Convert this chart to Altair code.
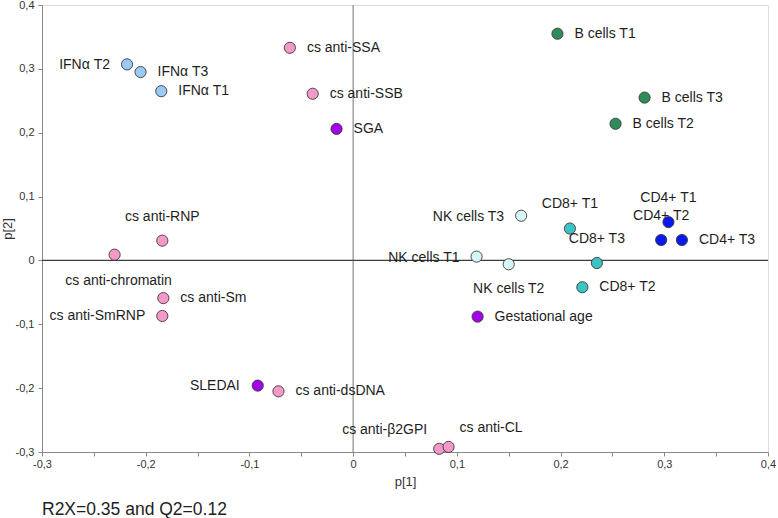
import altair as alt
import pandas as pd

# Loadings of the variables on the first two components
names = [
    "IFNα T2", "IFNα T3", "IFNα T1",
    "cs anti-SSA", "cs anti-SSB", "SGA",
    "B cells T1", "B cells T3", "B cells T2",
    "cs anti-RNP", "cs anti-chromatin", "cs anti-Sm", "cs anti-SmRNP",
    "NK cells T3", "NK cells T1", "NK cells T2", "Gestational age",
    "CD8+ T1", "CD8+ T3", "CD8+ T2",
    "CD4+ T1", "CD4+ T2", "CD4+ T3",
    "SLEDAI", "cs anti-dsDNA", "cs anti-β2GPI", "cs anti-CL",
]
p1 = [
    -0.218, -0.205, -0.185,
    -0.061, -0.039, -0.016,
    0.197, 0.281, 0.253,
    -0.184, -0.230, -0.183, -0.184,
    0.162, 0.119, 0.150, 0.120,
    0.209, 0.235, 0.221,
    0.304, 0.297, 0.317,
    -0.092, -0.072, 0.083, 0.092,
]
p2 = [
    0.307, 0.295, 0.265,
    0.333, 0.261, 0.206,
    0.355, 0.255, 0.214,
    0.031, 0.009, -0.059, -0.087,
    0.070, 0.006, -0.006, -0.088,
    0.050, -0.004, -0.042,
    0.060, 0.032, 0.032,
    -0.196, -0.205, -0.295, -0.292,
]
groups = [
    "IFN", "IFN", "IFN",
    "cs", "cs", "clin",
    "B", "B", "B",
    "cs", "cs", "cs", "cs",
    "NK", "NK", "NK", "clin",
    "CD8", "CD8", "CD8",
    "CD4", "CD4", "CD4",
    "clin", "cs", "cs", "cs",
]

group_names = ["IFN", "cs", "clin", "B", "NK", "CD8", "CD4"]
group_colors = ["#9cc8f4", "#f59ac8", "#a200e8", "#2e8b5a", "#d6f6f6", "#3cc4c4", "#0a1aee"]

# Label placement relative to each point: side and pixel offsets
label_align = [
    "right", "left", "left",
    "left", "left", "left",
    "left", "left", "left",
    "center", "center", "left", "right",
    "right", "right", "center", "left",
    "center", "center", "left",
    "center", "center", "left",
    "right", "left", "right", "left",
]
label_dx = [
    -17, 17, 17,
    17, 17, 17,
    17, 17, 17,
    0, 4, 17, -17,
    -17, -17, 0, 17,
    0, 0, 17,
    0, 0, 17,
    -18, 17, -12, 11,
]
label_dy = [
    1, 0, 0,
    0, 0, 0,
    0, 0, 0,
    -24, 26, 0, 0,
    1, 1, 25, 0,
    -25, -24, 0,
    -24, -24, 0,
    0, 0, -19, -19,
]

note = "R2X=0.35 and Q2=0.12"

W, H = 726, 447
x_dom = [-0.3, 0.4]
y_dom = [-0.3, 0.4]
px_x = W / (x_dom[1] - x_dom[0])
px_y = H / (y_dom[1] - y_dom[0])

df = pd.DataFrame({
    "name": names, "p1": p1, "p2": p2, "group": groups,
    "align": label_align, "dx": label_dx, "dy": label_dy,
})
df["lx"] = df["p1"] + df["dx"] / px_x
df["ly"] = df["p2"] - df["dy"] / px_y

tick_vals = [round(-0.3 + 0.05 * i, 2) for i in range(15)]
label_expr = (
    "abs(datum.value*10 - round(datum.value*10)) > 0.001 ? '' : "
    "(abs(datum.value) < 0.001 ? '0' : "
    "replace(replace(format(datum.value, '.1f'), '.', ','), '\u2212', '-'))"
)

font = "Liberation Sans"

x_scale = alt.Scale(domain=x_dom, nice=False, zero=False)
y_scale = alt.Scale(domain=y_dom, nice=False, zero=False)

x_axis = alt.Axis(
    title="p[1]", values=tick_vals, labelExpr=label_expr, grid=False,
    tickSize=4, labelPadding=2, titlePadding=6, labelFontSize=11,
    titleFontSize=13, titleFontWeight="normal", labelFont=font, titleFont=font,
    domainColor="#888888", tickColor="#888888", labelColor="#333333",
    titleColor="#333333", labelFlush=False,
)
y_axis = alt.Axis(
    title="p[2]", values=tick_vals, labelExpr=label_expr, grid=False,
    tickSize=4, labelPadding=4, titlePadding=1, labelFontSize=11,
    titleFontSize=13, titleFontWeight="normal", labelFont=font, titleFont=font,
    domainColor="#888888", tickColor="#888888", labelColor="#333333",
    titleColor="#333333", labelFlush=False,
)

base = alt.Chart(df)

points = base.mark_point(
    filled=True, size=125, opacity=1, stroke="#3a3a3a", strokeWidth=0.9
).encode(
    x=alt.X("p1:Q", scale=x_scale, axis=x_axis),
    y=alt.Y("p2:Q", scale=y_scale, axis=y_axis),
    color=alt.Color("group:N", scale=alt.Scale(domain=group_names, range=group_colors), legend=None),
    fill=alt.Fill("group:N", scale=alt.Scale(domain=group_names, range=group_colors), legend=None),
)

zero = pd.DataFrame({"v": [0.0]})
vline = alt.Chart(zero).mark_rule(color="#8a8a8a", strokeWidth=1.2).encode(
    x=alt.X("v:Q", scale=x_scale)
)
hline = alt.Chart(zero).mark_rule(color="#3c3c3c", strokeWidth=1.2).encode(
    y=alt.Y("v:Q", scale=y_scale)
)


def label_layer(side):
    return base.transform_filter(alt.datum.align == side).mark_text(
        align=side, baseline="middle", font=font, fontSize=14, color="#1e1e1e"
    ).encode(
        x=alt.X("lx:Q", scale=x_scale),
        y=alt.Y("ly:Q", scale=y_scale),
        text="name:N",
    )


labels = [label_layer(s) for s in ["left", "right", "center"]]

note_text = alt.Chart(pd.DataFrame({"t": [note]})).mark_text(
    align="left", baseline="middle", font=font, fontSize=17.5, color="#1e1e1e"
).encode(text="t:N", x=alt.value(0), y=alt.value(505))

chart = alt.layer(vline, hline, *labels, points, note_text).properties(
    width=W, height=H,
    autosize=alt.AutoSizeParams(type="none"),
    padding={"left": 42, "top": 5, "right": 10, "bottom": 66},
).configure_view(stroke=None).configure(background="white")

chart.save("out.html", embed_options={"renderer": "svg", "actions": False})
